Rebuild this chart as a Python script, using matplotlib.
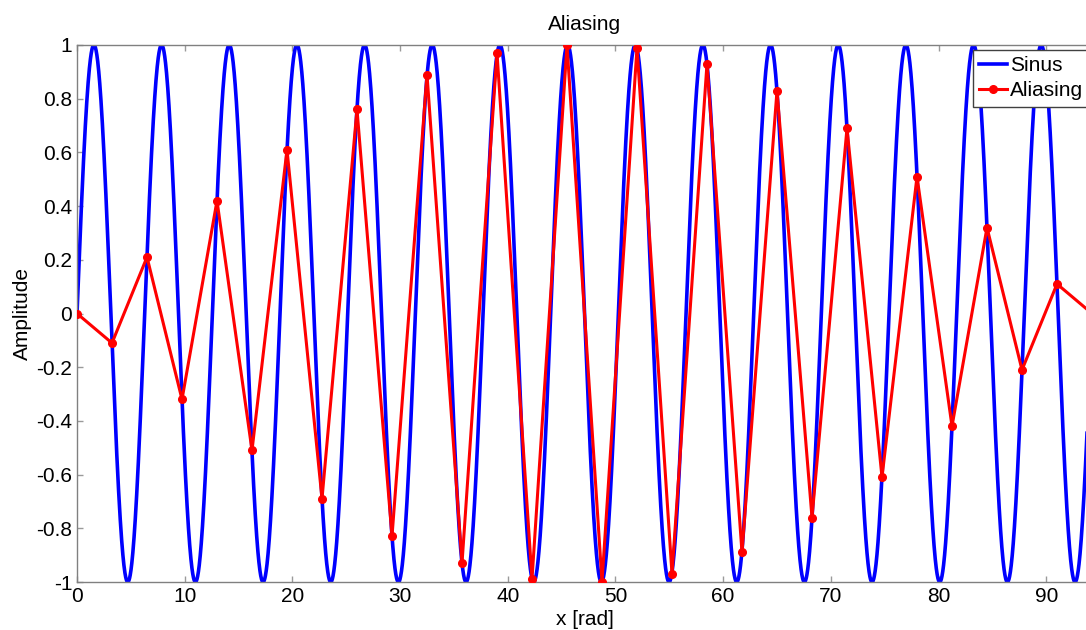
import numpy as np
import matplotlib
matplotlib.use("Agg")
import matplotlib.pyplot as plt

plt.rcParams['font.family'] = ['Liberation Sans', 'DejaVu Sans']
plt.rcParams['axes.unicode_minus'] = False

# sampled points (one sample every ~3.25 rad)
sample_x = [0.0, 3.25, 6.50, 9.75, 13.00, 16.25, 19.50, 22.75, 26.00, 29.25,
            32.50, 35.75, 39.00, 42.25, 45.50, 48.75, 52.00, 55.25, 58.50, 61.75,
            65.00, 68.25, 71.50, 74.75, 78.00, 81.25, 84.50, 87.75, 91.00, 94.25]
sample_y = [0.0, -0.11, 0.21, -0.32, 0.42, -0.51, 0.61, -0.69, 0.76, -0.83,
            0.89, -0.93, 0.97, -0.99, 1.0, -1.0, 0.99, -0.97, 0.93, -0.89,
            0.83, -0.76, 0.69, -0.61, 0.51, -0.42, 0.32, -0.21, 0.11, 0.0]

x_ticks = [0, 10, 20, 30, 40, 50, 60, 70, 80, 90]
y_ticks = [-1, -0.8, -0.6, -0.4, -0.2, 0, 0.2, 0.4, 0.6, 0.8, 1]
y_tick_labels = ['-1', '-0.8', '-0.6', '-0.4', '-0.2', '0', '0.2', '0.4', '0.6', '0.8', '1']

# continuous signal
x = np.linspace(sample_x[0], sample_x[-1], 5000)
y = np.sin(x)

W, H = 1086, 630
fig = plt.figure(figsize=(W / 100, H / 100), dpi=100)
ax = fig.add_axes([77 / W, (H - 582) / H, (1092 - 77) / W, (582 - 45) / H])

ax.plot(x, y, color='#0000ff', lw=2.6, label='Sinus', zorder=2)
ax.plot(sample_x, sample_y, color='#ff0000', lw=2.2, marker='o', ms=5.5,
        label='Aliasing', zorder=3)

ax.set_xlim(sample_x[0], sample_x[-1])
ax.set_ylim(-1, 1)
ax.set_xticks(x_ticks)
ax.set_xticklabels([str(t) for t in x_ticks])
ax.set_yticks(y_ticks)
ax.set_yticklabels(y_tick_labels)

ax.tick_params(direction='in', top=True, right=True, length=4.5, width=1,
               color='#9a9a9a', labelsize=15, pad=3.5)
for s in ax.spines.values():
    s.set_color('#808080')
    s.set_linewidth(1)

ax.set_title('Aliasing', fontsize=15, pad=11)
ax.set_xlabel('x [rad]', fontsize=15, labelpad=3)
ax.set_ylabel('Amplitude', fontsize=15, labelpad=3)

leg = ax.legend(loc='upper left', bbox_to_anchor=(973 / W, 1 - 50 / H),
                bbox_transform=fig.transFigure, borderaxespad=0, fontsize=15,
                frameon=True, fancybox=False, framealpha=1, borderpad=0.3,
                handlelength=1.35, handletextpad=0.12, labelspacing=0.3)
leg.get_frame().set_edgecolor('#404040')
leg.get_frame().set_linewidth(1)

fig.savefig('out.png', dpi=100)
